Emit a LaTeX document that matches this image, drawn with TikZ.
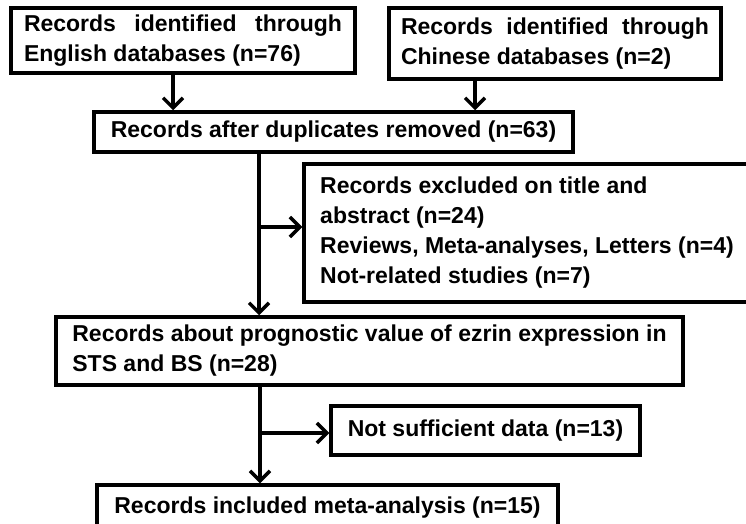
\documentclass[tikz,border=0pt]{standalone}
\usepackage{fontspec}
\setmainfont{Liberation Sans}
\usepackage{tikz}
\usetikzlibrary{arrows.meta}

\begin{document}
\begin{tikzpicture}[x=1pt,y=-1pt,
  box/.style={draw,line width=3.5pt,inner xsep=12pt,inner ysep=3pt,
    font=\fontsize{23}{30}\selectfont\bfseries},
  arr/.style={line width=3.5pt,-{Straight Barb[length=10pt,width=20pt]}}]
  \useasboundingbox (0,0) rectangle (746,524);
  % sources
  \node[box,text width=318pt,align=justify,inner xsep=13pt,minimum width=344pt,minimum height=65pt] (eng) at (183,40.5)
    {Records identified through\linebreak English databases (n=76)};
  \node[box,text width=308pt,align=justify,minimum width=332pt,minimum height=71pt] (chn) at (555,43.5)
    {Records identified through\linebreak Chinese databases (n=2)};
  \node[box,minimum width=479pt,minimum height=40pt] (dup) at (333.5,132)
    {Records after duplicates removed (n=63)};
  % screening
  \node[box,align=left,minimum width=446pt,minimum height=138pt] (excl) at (527,233)
    {Records excluded on title and\\ abstract (n=24)\\ Reviews, Meta-analyses, Letters (n=4)\\ Not-related studies (n=7)};
  \node[box,align=left,minimum width=627pt,minimum height=68pt] (prog) at (369.5,351)
    {Records about prognostic value of ezrin expression in\\ STS and BS (n=28)};
  \node[box,minimum width=309pt,minimum height=49pt] (nsd) at (485.5,430.5)
    {Not sufficient data (n=13)};
  \node[box,minimum width=461pt,minimum height=45pt] (incl) at (327.5,507.5)
    {Records included meta-analysis (n=15)};

  \coordinate (a1) at (173,0);
  \coordinate (a2) at (475,0);
  \coordinate (j1) at (259,227);
  \coordinate (j2) at (260,433);
  \draw[arr] (eng.south -| a1) -- (dup.north -| a1);
  \draw[arr] (chn.south -| a2) -- (dup.north -| a2);
  \draw[arr] (j1 |- dup.south) -- (j1 |- prog.north);
  \draw[arr] (j1) -- (j1 -| excl.west);
  \draw[arr] (j2 |- prog.south) -- (j2 |- incl.north);
  \draw[arr] (j2) -- (j2 -| nsd.west);
\end{tikzpicture}
\end{document}
